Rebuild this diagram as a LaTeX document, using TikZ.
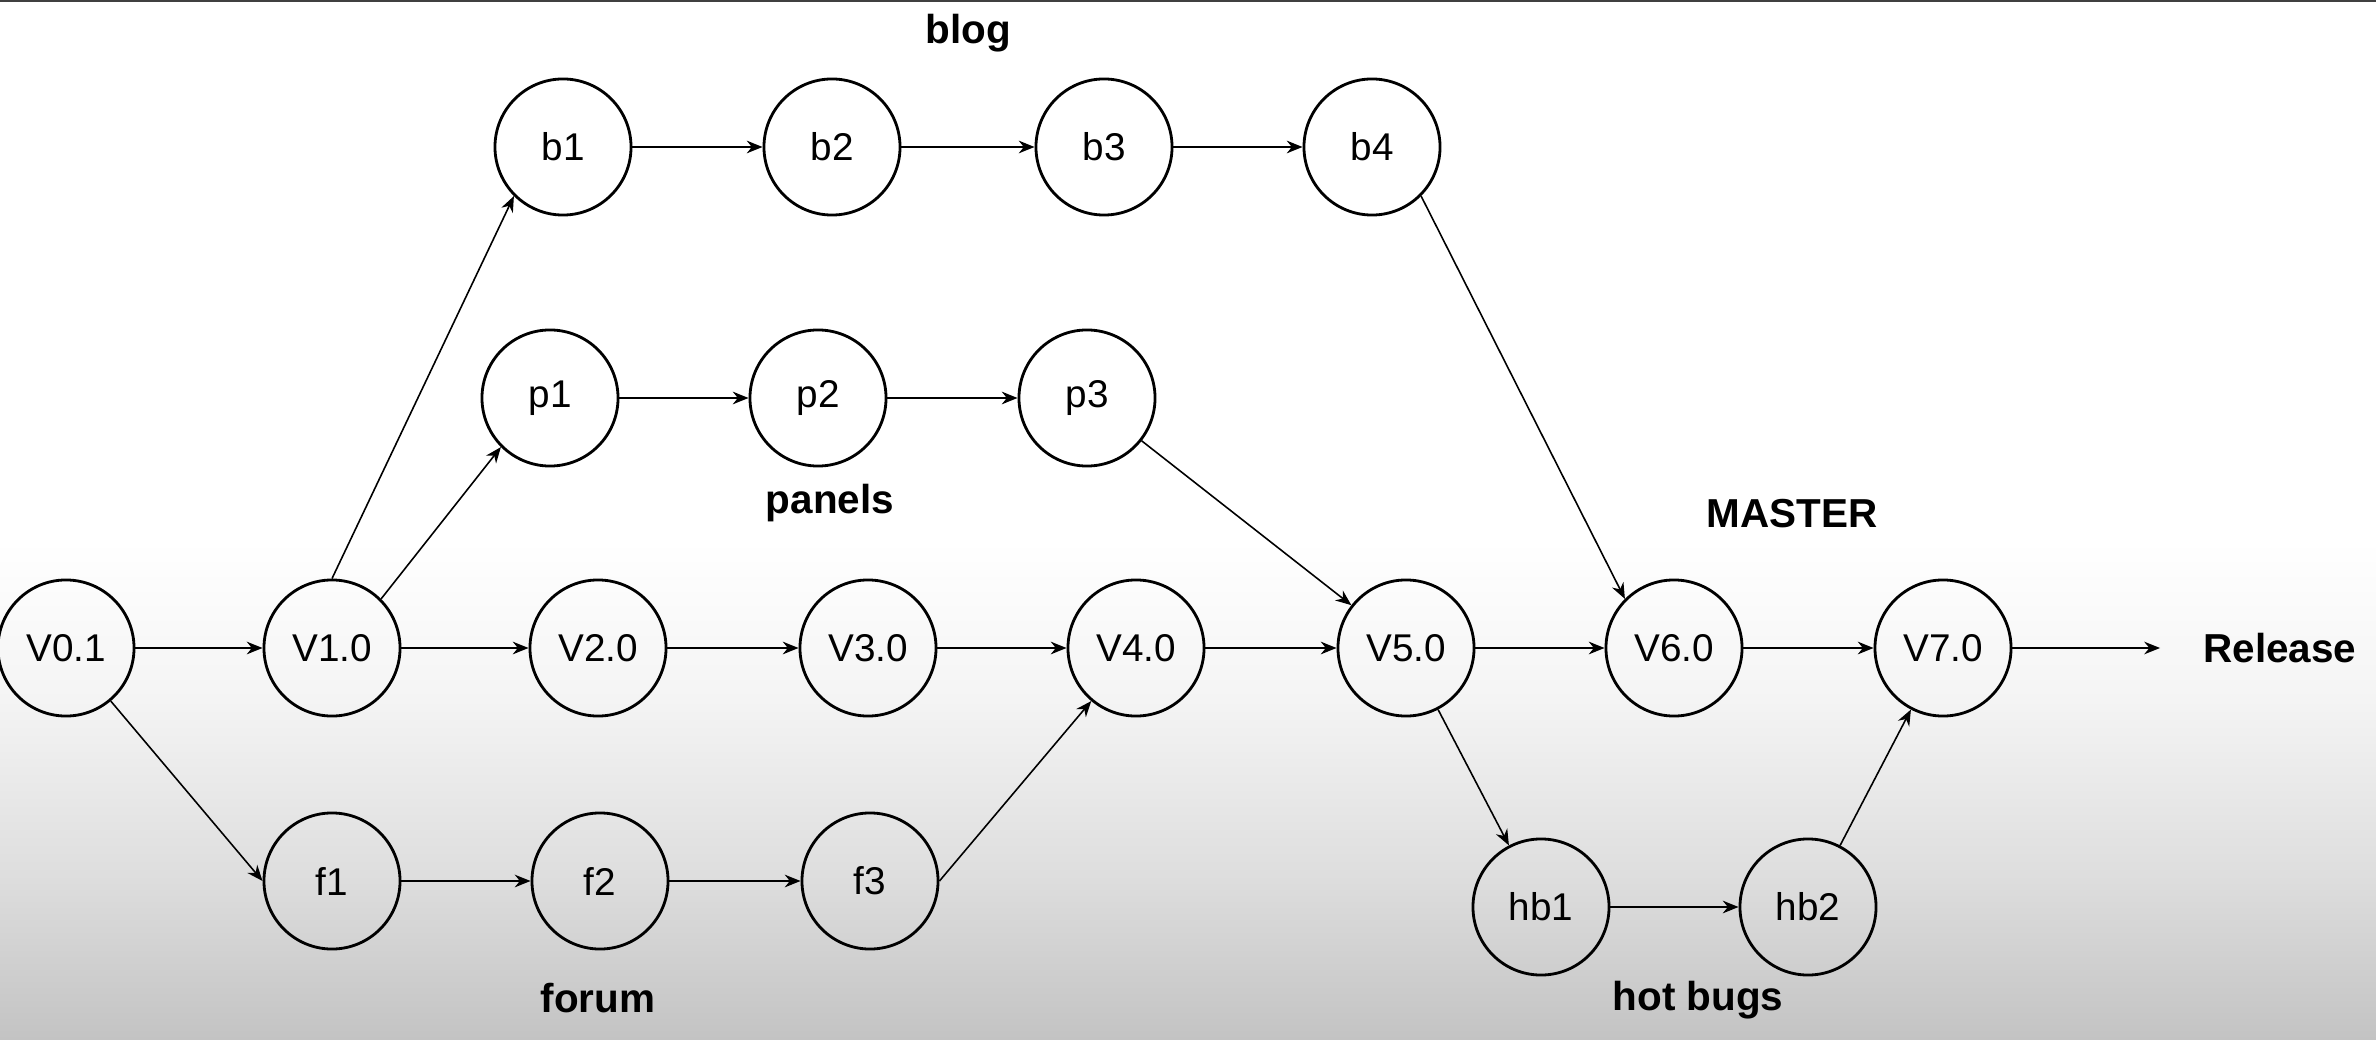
\documentclass[tikz,border=0pt]{standalone}
\usepackage{fontspec}
\setmainfont{Liberation Sans}
\usetikzlibrary{arrows.meta,positioning}

\definecolor{bgone}{RGB}{244,244,244}
\definecolor{bgtwo}{RGB}{221,221,221}
\definecolor{bgbottom}{RGB}{195,195,195}

\begin{document}
\begin{tikzpicture}[
    x=0.01cm, y=-0.01cm,
    commit/.style={circle, draw, line width=0.8pt, minimum size=1.36cm, inner sep=0pt, font=\fontsize{11}{13}\selectfont},
    branch/.style={font=\bfseries\fontsize{11.5}{14}\selectfont},
    link/.style={-{Stealth[length=4.5pt,width=3.6pt]}, line width=0.45pt}
]
    % Background
    \useasboundingbox (0,0) rectangle (2376,1040);
    \fill[white] (0,0) rectangle (2376,541);
    \shade[top color=white, bottom color=bgone] (0,540) rectangle (2376,701);
    \shade[top color=bgone, bottom color=bgtwo] (0,700) rectangle (2376,881);
    \shade[top color=bgtwo, bottom color=bgbottom] (0,880) rectangle (2376,1040);
    \fill[black!75] (0,0) rectangle (2376,2);

    % Master line
    \foreach \x/\n/\t in {66/V01/V0.1, 332/V10/V1.0, 598/V20/V2.0, 868/V30/V3.0, 1136/V40/V4.0, 1406/V50/V5.0, 1674/V60/V6.0, 1943/V70/V7.0} {
        \node[commit] (\n) at (\x, 648) {\t};
    }

    % Feature branches
    \foreach \x/\n in {563/b1, 832/b2, 1104/b3, 1372/b4} {
        \node[commit] (\n) at (\x, 147) {\n};
    }
    \foreach \x/\n in {550/p1, 818/p2, 1087/p3} {
        \node[commit] (\n) at (\x, 398) {\n};
    }
    \foreach \x/\n in {332/f1, 600/f2, 870/f3} {
        \node[commit] (\n) at (\x, 881) {\n};
    }
    \node[commit] (hb1) at (1541, 907) {hb1};
    \node[commit] (hb2) at (1808, 907) {hb2};

    % Branch labels
    \node[branch] (blog) at (968, 33) {blog};
    \node[branch] (panels) at (830, 503) {panels};
    \node[branch] (master) at (1792, 514) {MASTER};
    \node[branch] (forum) at (598, 998) {forum};
    \node[branch] (hotbugs) at (1698, 1000) {hot bugs};
    \node[branch] (release) at (2280, 648) {Release};
    \coordinate (relend) at (2160, 648);

    % Commits in a row
    \foreach \a/\b in {V01/V10, V10/V20, V20/V30, V30/V40, V40/V50, V50/V60, V60/V70, b1/b2, b2/b3, b3/b4, p1/p2, p2/p3, f1/f2, f2/f3, hb1/hb2} {
        \draw[link] (\a) -- (\b);
    }
    \draw[link] (V70) -- (relend);

    % Branching off and merging back
    \draw[link] (V10.north) -- (b1.225);
    \draw[link] (V10.45) -- (p1.225);
    \draw[link] (V01) -- (f1.west);
    \draw[link] (f3.east) -- (V40);
    \draw[link] (p3) -- (V50);
    \draw[link] (b4.-45) -- (V60.135);
    \draw[link] (V50) -- (hb1);
    \draw[link] (hb2) -- (V70);

\end{tikzpicture}
\end{document}
